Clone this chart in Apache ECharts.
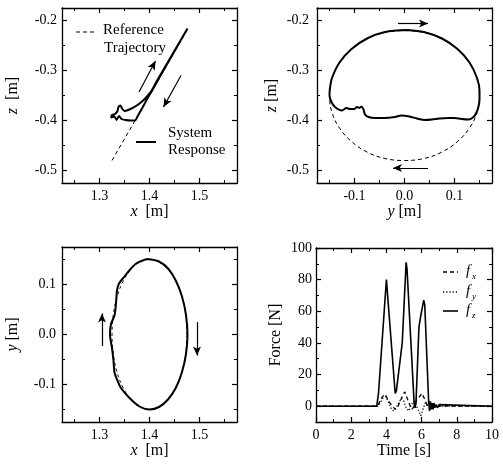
<!DOCTYPE html>
<html>
<head>
<meta charset="utf-8">
<script src="https://cdn.jsdelivr.net/npm/echarts@6/dist/echarts.min.js"></script>
<style>html,body{margin:0;padding:0;background:#fff;}#c{width:503px;height:466px;}</style>
</head>
<body>
<div id="c"></div>
<script>
// ---------- data ----------
const xzReference = [[1.325,-0.480],[1.475,-0.220]];
const xzResponse = [[1.476,-0.216],[1.462,-0.240],[1.445,-0.269],[1.428,-0.298],[1.414,-0.322],[1.405,-0.339],[1.395,-0.352],[1.385,-0.362],[1.373,-0.371],[1.362,-0.377],[1.350,-0.381],[1.345,-0.376],[1.342,-0.370],[1.338,-0.373],[1.336,-0.381],[1.331,-0.387],[1.325,-0.389],[1.323,-0.394],[1.330,-0.392],[1.334,-0.399],[1.339,-0.391],[1.344,-0.397],[1.352,-0.399],[1.362,-0.400],[1.371,-0.400],[1.377,-0.390],[1.385,-0.376],[1.392,-0.363],[1.398,-0.352],[1.407,-0.337],[1.422,-0.310],[1.441,-0.277],[1.461,-0.242],[1.476,-0.216]];
const xzArrows = [[[1.379,-0.343],[1.412,-0.281]],[[1.463,-0.310],[1.428,-0.373]]];

const yzReference = [[0,-0.220],[0.039,-0.224],[0.075,-0.237],[0.106,-0.258],[0.130,-0.285],[0.145,-0.316],[0.150,-0.350],[0.145,-0.384],[0.130,-0.415],[0.106,-0.442],[0.075,-0.463],[0.039,-0.476],[0,-0.480],[-0.039,-0.476],[-0.075,-0.463],[-0.106,-0.442],[-0.130,-0.415],[-0.145,-0.384],[-0.150,-0.350],[-0.145,-0.316],[-0.130,-0.285],[-0.106,-0.258],[-0.075,-0.237],[-0.039,-0.224],[0,-0.220]];
const yzResponse = [[0.005,-0.219],[0.039,-0.223],[0.075,-0.236],[0.106,-0.257],[0.130,-0.284],[0.145,-0.315],[0.150,-0.340],[0.150,-0.358],[0.148,-0.372],[0.144,-0.384],[0.138,-0.393],[0.128,-0.398],[0.114,-0.397],[0.100,-0.395],[0.088,-0.395],[0.070,-0.396],[0.055,-0.398],[0.041,-0.399],[0.025,-0.396],[0.010,-0.392],[-0.006,-0.390],[-0.019,-0.393],[-0.040,-0.395],[-0.059,-0.395],[-0.072,-0.393],[-0.079,-0.388],[-0.082,-0.378],[-0.086,-0.372],[-0.090,-0.375],[-0.095,-0.373],[-0.100,-0.377],[-0.109,-0.377],[-0.116,-0.375],[-0.125,-0.380],[-0.139,-0.373],[-0.146,-0.363],[-0.150,-0.350],[-0.149,-0.335],[-0.145,-0.315],[-0.130,-0.284],[-0.106,-0.257],[-0.075,-0.236],[-0.039,-0.223],[0.005,-0.219]];
const yzArrows = [[[-0.013,-0.206],[0.047,-0.206]],[[0.047,-0.495],[-0.023,-0.495]]];

const xyReference = [[1.475,0],[1.4724,0.039],[1.465,0.075],[1.453,0.106],[1.4375,0.130],[1.419,0.145],[1.400,0.150],[1.381,0.145],[1.3625,0.130],[1.347,0.106],[1.335,0.075],[1.3276,0.039],[1.325,0],[1.3276,-0.039],[1.335,-0.075],[1.347,-0.106],[1.3625,-0.130],[1.381,-0.145],[1.400,-0.150],[1.419,-0.145],[1.4375,-0.130],[1.453,-0.106],[1.465,-0.075],[1.4724,-0.039],[1.475,0]];
const xyResponse = [[1.395,0.151],[1.419,0.146],[1.438,0.131],[1.453,0.107],[1.465,0.076],[1.473,0.039],[1.476,0],[1.473,-0.039],[1.465,-0.075],[1.453,-0.106],[1.437,-0.130],[1.419,-0.145],[1.400,-0.150],[1.380,-0.144],[1.360,-0.127],[1.343,-0.107],[1.335,-0.090],[1.330,-0.076],[1.328,-0.053],[1.325,-0.027],[1.321,0],[1.323,0.021],[1.330,0.038],[1.333,0.062],[1.335,0.088],[1.339,0.102],[1.350,0.116],[1.363,0.132],[1.375,0.143],[1.395,0.151]];
const xyArrows = [[[1.305,-0.023],[1.305,0.042]],[[1.495,0.025],[1.495,-0.042]]];

const fxData = [[0,0],[3.5,0],[3.62,3],[3.78,6],[3.92,7.5],[4.05,5],[4.2,2],[4.35,0],[4.5,-2],[4.62,-1],[4.78,3],[4.95,7.5],[5.05,9],[5.18,5],[5.32,1],[5.45,-2],[5.58,0],[5.72,4],[5.88,6],[6.02,8],[6.15,5],[6.3,1],[6.45,0],[10,0]];
const fyData = [[0,0],[3.5,0],[3.65,2],[3.8,5],[3.95,6],[4.1,3],[4.25,-1],[4.4,-3],[4.55,-1],[4.7,2],[4.85,5],[5.0,3],[5.12,-1],[5.28,-3],[5.42,1],[5.55,3],[5.7,0],[5.85,-3],[5.95,-6],[6.05,-3],[6.2,2],[6.35,0],[6.5,0],[10,0]];
const fzData = [[0,0],[3.45,0],[3.55,8],[4.0,80],[4.05,79],[4.5,8],[4.57,10],[4.9,40],[5.12,91],[5.17,87],[5.58,1],[5.63,-1],[5.68,2],[5.85,50],[5.95,57],[6.12,67],[6.18,64],[6.40,3],[6.45,-3],[6.50,3],[6.55,-2],[6.60,2],[6.65,-2],[6.70,2],[6.75,-1],[6.82,1],[6.90,-1],[7.0,1],[7.1,0],[10,0]];

const posMajor = [1.3,1.4,1.5];
const posMinor = [1.25,1.35,1.45,1.55];
const zMajor = [-0.5,-0.4,-0.3,-0.2];
const zMinor = [-0.45,-0.35,-0.25];
const symMajor = [-0.1,0.0,0.1];
const symMinor = [-0.15,-0.05,0.05,0.15];
const timeMajor = [0,2,4,6,8,10];
const timeMinor = [1,3,5,7,9];
const forceMajor = [0,20,40,60,80,100];
const forceMinor = [10,30,50,70,90];

// ---------- helpers ----------
const FONT = '"Liberation Serif","DejaVu Serif",serif';
const BLACK = '#000';
const fmt1 = v => v.toFixed(1);
const fmt0 = v => String(Math.round(v));

function axesFor(dim, gridIndex, min, max, majors, minors, opt) {
  const sides = dim === 'x' ? ['bottom','top'] : ['left','right'];
  const base = {type:'value', gridIndex, min, max, scale:true,
    splitLine:{show:false}, minorSplitLine:{show:false}};
  const list = [];
  list.push(Object.assign({}, base, {
    position: sides[0],
    axisLine:{show:true, onZero:false, lineStyle:{color:BLACK, width:1.3}},
    axisTick:{show:true, inside:true, length:5, customValues:majors, lineStyle:{color:BLACK, width:1.2}},
    axisLabel:{show:true, customValues:majors, formatter:opt.fmt, margin:opt.margin, color:BLACK, fontFamily:FONT, fontSize:14},
    name: opt.name, nameLocation:'middle', nameGap:opt.nameGap, nameRotate: dim==='y'?90:0,
    nameTextStyle:{color:BLACK, fontFamily:FONT, fontSize:16, rich:{i:{fontStyle:'italic', fontFamily:FONT, fontSize:16, color:BLACK}}}
  }));
  list.push(Object.assign({}, base, {
    position: sides[1],
    axisLine:{show:true, onZero:false, lineStyle:{color:BLACK, width:1.3}},
    axisTick:{show:true, inside:true, length:5, customValues:majors, lineStyle:{color:BLACK, width:1.2}},
    axisLabel:{show:false}
  }));
  for (const s of sides) {
    list.push(Object.assign({}, base, {
      position: s,
      axisLine:{show:false, onZero:false},
      axisTick:{show:true, inside:true, length:3, customValues:minors, lineStyle:{color:BLACK, width:1}},
      axisLabel:{show:false}
    }));
  }
  return list;
}

const grids = [
  {left:62, top:8, width:175, height:175},
  {left:317, top:8, width:175, height:175},
  {left:62, top:247, width:175, height:175},
  {left:316, top:248, width:176, height:174}
];

const xAxes = [], yAxes = [], xIdx = [], yIdx = [];
function addPanel(g, xr, xmaj, xmin, xo, yr, ymaj, ymin, yo) {
  xIdx.push(xAxes.length); xAxes.push(...axesFor('x', g, xr[0], xr[1], xmaj, xmin, xo));
  yIdx.push(yAxes.length); yAxes.push(...axesFor('y', g, yr[0], yr[1], ymaj, ymin, yo));
}
addPanel(0, [1.225,1.575], posMajor, posMinor, {fmt:fmt1, margin:6, name:'{i|x}  [m]', nameGap:20},
            [-0.525,-0.175], zMajor, zMinor, {fmt:fmt1, margin:5, name:'{i|z}  [m]', nameGap:41});
addPanel(1, [-0.175,0.175], symMajor, symMinor, {fmt:fmt1, margin:6, name:'{i|y} [m]', nameGap:20},
            [-0.525,-0.175], zMajor, zMinor, {fmt:fmt1, margin:8, name:'{i|z} [m]', nameGap:37});
addPanel(2, [1.225,1.575], posMajor, posMinor, {fmt:fmt1, margin:6, name:'{i|x}  [m]', nameGap:18},
            [-0.175,0.175], symMajor, symMinor, {fmt:fmt1, margin:6, name:'{i|y} [m]', nameGap:41});
addPanel(3, [0,10], timeMajor, timeMinor, {fmt:fmt0, margin:6, name:'Time [s]', nameGap:18},
            [-10,100], forceMajor, forceMinor, {fmt:fmt0, margin:4, name:'Force [N]', nameGap:32});

function lineSeries(p, data, style, smooth, arrows) {
  const s = {type:'line', xAxisIndex:xIdx[p], yAxisIndex:yIdx[p], data, showSymbol:false, symbol:'none',
    smooth: smooth, lineStyle:Object.assign({color:BLACK}, style), silent:true, animation:false, clip:true};
  if (arrows) {
    s.markLine = {silent:true, animation:false, symbol:['none','arrow'], symbolSize:[6,9],
      lineStyle:{color:BLACK, width:1.2, type:'solid'}, label:{show:false},
      data: arrows.map(a => [{coord:a[0]},{coord:a[1]}])};
  }
  return s;
}

const series = [
  lineSeries(0, xzReference, {width:1, type:[4,3]}, false, xzArrows),
  lineSeries(0, xzResponse, {width:2}, 0.2),
  lineSeries(1, yzReference, {width:1, type:[4,3]}, 0.4, yzArrows),
  lineSeries(1, yzResponse, {width:2}, 0.3),
  lineSeries(2, xyReference, {width:1, type:[3,3]}, 0.4, xyArrows),
  lineSeries(2, xyResponse, {width:2}, 0.3),
  lineSeries(3, fxData, {width:1.3, type:[4,3]}, false),
  lineSeries(3, fyData, {width:1.3, type:[1.2,2]}, false),
  lineSeries(3, fzData, {width:1.6}, false)
];

const seg = (x1, x2, y, dash, w) => ({type:'line', shape:{x1, y1:y, x2, y2:y}, style:{stroke:BLACK, lineWidth:w||1.3, lineDash:dash||null}});
const label = (x, y, text, font) => ({type:'text', x, y, style:{text, fill:BLACK, font, verticalAlign:'middle'}});

const graphic = [
  seg(76, 97, 32, [4,3], 1.2),
  label(103, 30, 'Reference', '15px ' + FONT),
  label(104, 48, 'Trajectory', '15px ' + FONT),
  seg(136, 156, 142, null, 2),
  label(168, 133, 'System', '15px ' + FONT),
  label(168, 150, 'Response', '15px ' + FONT),
  seg(443, 458, 272, [4,3], 1.3),
  seg(443, 458, 292, [1.2,2], 1.3),
  seg(443, 458, 311, null, 1.6),
  label(466, 271, 'f', 'italic 15px ' + FONT),
  label(472, 277, 'x', 'italic 9px ' + FONT),
  label(466, 291, 'f', 'italic 15px ' + FONT),
  label(472, 297, 'y', 'italic 9px ' + FONT),
  label(466, 310, 'f', 'italic 15px ' + FONT),
  label(472, 316, 'z', 'italic 9px ' + FONT)
];

const chart = echarts.init(document.getElementById('c'), null, {renderer:'canvas'});
chart.setOption({
  animation:false,
  backgroundColor:'#fff',
  grid: grids,
  xAxis: xAxes,
  yAxis: yAxes,
  series,
  graphic
});
</script>
</body>
</html>
